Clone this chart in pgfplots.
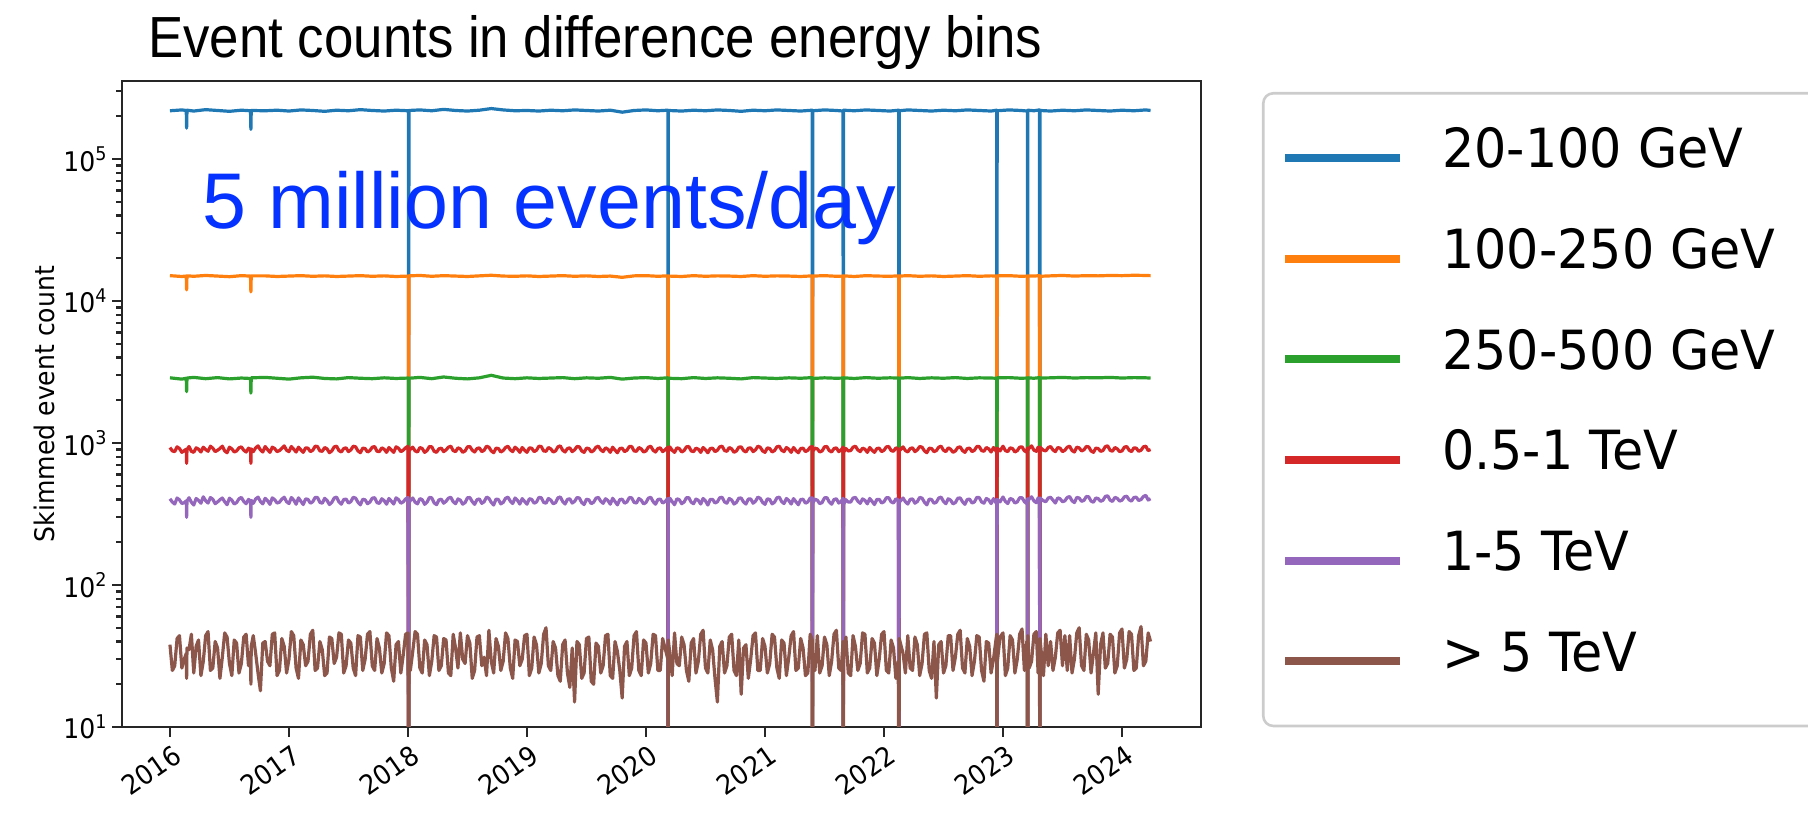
\documentclass[border=0pt]{standalone}
\usepackage{fontspec}
\setmainfont{DejaVu Sans}
\newfontfamily\tickfont[FakeStretch=0.93]{DejaVu Sans}
\newfontfamily\legfont[FakeStretch=0.94]{DejaVu Sans}
\newfontfamily\arialfont{Liberation Sans}
\newfontfamily\titlefont[FakeStretch=0.91]{Liberation Sans}
\usepackage{pgfplots}
\usepackage{pgfplotstable}
\pgfplotsset{compat=1.18}
\definecolor{mblue}{HTML}{1F77B4}
\definecolor{morange}{HTML}{FF7F0E}
\definecolor{mgreen}{HTML}{2CA02C}
\definecolor{mred}{HTML}{D62728}
\definecolor{mpurple}{HTML}{9467BD}
\definecolor{mbrown}{HTML}{8C564B}
\definecolor{annblue}{RGB}{5,50,255}

% years since 2016; blue, orange, green counts
\pgfplotstableread{
x b o g
0.00 219000 15100 2880
0.10 222000 14900 2820
0.137 220000 15000 2860
0.14 165000 12000 2300
0.143 221000 15050 2870
0.20 218000 14950 2900
0.30 223000 15150 2840
0.40 220000 15000 2890
0.50 217000 14850 2830
0.60 221000 15100 2870
0.677 219000 15000 2850
0.68 162000 11600 2250
0.683 220000 15050 2880
0.80 219000 15050 2900
0.90 221000 14900 2860
1.00 218000 15000 2820
1.10 222000 15100 2880
1.20 220000 14950 2910
1.30 217000 15050 2850
1.40 221000 14900 2830
1.50 219000 15000 2890
1.60 223000 15100 2860
1.70 220000 14950 2840
1.80 218000 15050 2880
1.90 221000 14900 2850
2.004 219000 15000 2870
2.006 1 1 1
2.008 220000 15050 2860
2.10 222000 15150 2900
2.20 219000 14950 2840
2.30 224000 15100 2920
2.40 220000 15000 2860
2.50 218000 14900 2830
2.60 221000 15050 2880
2.70 227000 15200 3000
2.80 222000 15000 2870
2.90 219000 14950 2840
3.00 220000 15050 2880
3.10 218000 14900 2850
3.20 221000 15000 2870
3.30 219000 15100 2890
3.40 222000 14950 2840
3.50 220000 15050 2880
3.60 218000 14900 2860
3.70 221000 15000 2900
3.80 214000 14700 2820
3.90 220000 15050 2870
4.00 222000 15100 2890
4.10 219000 14950 2850
4.184 221000 15050 2880
4.186 1 1 1
4.188 220000 15000 2860
4.30 218000 14900 2840
4.40 221000 15100 2890
4.50 219000 14950 2850
4.60 222000 15050 2880
4.70 220000 15000 2860
4.80 217000 14900 2830
4.90 221000 15100 2890
5.00 219000 14950 2870
5.10 222000 15050 2850
5.20 220000 15000 2880
5.30 218000 14900 2860
5.397 221000 15050 2890
5.399 1 1 1
5.401 219000 15000 2850
5.50 222000 15100 2880
5.60 220000 14950 2860
5.656 218000 15000 2870
5.658 1 1 1
5.660 221000 15050 2880
5.75 219000 14900 2850
5.85 222000 15100 2890
5.95 220000 15000 2860
6.05 218000 14950 2880
6.124 221000 15050 2870
6.126 1 1 1
6.128 219000 15000 2860
6.20 222000 15100 2890
6.30 220000 14950 2850
6.40 218000 15050 2880
6.50 221000 14900 2860
6.60 219000 15000 2890
6.70 222000 15100 2850
6.80 220000 14950 2880
6.90 218000 15050 2870
6.947 221000 15000 2860
6.949 1 1 1
6.951 219000 15050 2880
7.05 222000 15100 2890
7.15 220000 14950 2860
7.205 218000 15000 2870
7.207 1 1 1
7.209 221000 15050 2880
7.26 219000 15000 2860
7.307 222000 15100 2890
7.309 1 1 1
7.311 220000 14950 2870
7.40 218000 15050 2880
7.50 221000 15150 2900
7.60 219000 15000 2870
7.70 222000 15100 2890
7.80 220000 15050 2880
7.90 218000 15150 2900
8.00 221000 15100 2870
8.10 219000 15200 2890
8.20 222000 15150 2880
8.24 220000 15100 2870
}\coarse

% years since 2016; red, purple, brown counts
\pgfplotstableread{
x r p b
0.00 930 405 38
0.02 880 384 25
0.04 870 372 27
0.06 940 410 42
0.08 915 398 44
0.10 860 375 26
0.12 885 380 30
0.137 905 392 33
0.14 720 300 22
0.143 900 390 36
0.16 945 412 35
0.18 875 383 45
0.20 860 366 24
0.22 925 407 37
0.24 905 395 41
0.26 865 377 23
0.28 935 418 29
0.30 900 392 44
0.32 875 378 47
0.34 950 413 25
0.36 920 402 26
0.38 870 374 40
0.40 890 385 36
0.42 915 399 22
0.44 950 410 31
0.46 880 386 46
0.48 855 368 43
0.50 935 409 28
0.52 910 396 23
0.54 865 372 41
0.56 880 381 39
0.58 925 405 24
0.60 940 414 28
0.62 890 388 43
0.64 865 374 45
0.66 920 401 27
0.677 900 390 34
0.68 720 300 20
0.683 910 395 37
0.70 870 376 44
0.72 925 404 33
0.74 955 416 24
0.76 895 388 18
0.78 865 373 39
0.80 945 408 40
0.82 900 392 29
0.84 860 370 27
0.86 935 411 45
0.88 915 399 46
0.90 870 378 23
0.92 885 383 25
0.94 920 403 42
0.96 955 415 37
0.98 890 386 24
1.00 870 375 30
1.02 945 413 47
1.04 905 397 44
1.06 865 371 26
1.08 935 411 22
1.10 895 389 41
1.12 860 369 38
1.14 925 404 27
1.16 920 401 29
1.18 870 377 45
1.20 890 386 48
1.22 950 414 25
1.24 945 413 26
1.26 880 382 40
1.28 875 377 35
1.30 930 408 23
1.32 910 394 24
1.34 855 369 43
1.36 880 382 42
1.38 940 410 28
1.40 950 416 31
1.42 885 385 46
1.44 865 371 45
1.46 915 400 24
1.48 925 403 27
1.50 870 378 41
1.52 895 387 39
1.54 950 415 26
1.56 940 409 23
1.58 880 383 44
1.60 855 367 43
1.62 920 402 25
1.64 915 398 30
1.66 865 374 45
1.68 885 384 47
1.70 935 409 27
1.72 945 412 25
1.74 875 380 42
1.76 870 376 36
1.78 925 405 24
1.80 905 393 28
1.82 860 371 46
1.84 930 407 44
1.86 895 390 26
1.88 860 372 21
1.90 940 411 38
1.92 920 400 40
1.94 870 377 24
1.96 890 385 32
1.98 925 404 45
2.00 950 414 46
2.006 1 1 1
2.008 875 379 28
2.02 905 394 25
2.04 935 410 34
2.06 880 383 47
2.08 865 373 45
2.10 930 406 26
2.12 915 399 24
2.14 860 370 41
2.16 885 383 38
2.18 945 414 23
2.20 940 411 29
2.22 875 379 44
2.24 860 368 43
2.26 910 398 25
2.28 920 402 27
2.30 870 377 42
2.32 895 389 41
2.34 935 409 24
2.36 950 415 23
2.38 885 386 45
2.40 870 374 36
2.42 925 404 26
2.44 910 396 46
2.46 860 371 30
2.48 880 381 28
2.50 940 412 44
2.52 945 413 39
2.54 890 387 22
2.56 865 370 25
2.58 915 399 43
2.60 925 404 44
2.62 870 376 27
2.64 890 386 31
2.66 950 416 23
2.68 935 408 48
2.70 880 382 29
2.72 855 366 24
2.74 920 403 42
2.76 915 400 37
2.78 865 373 25
2.80 885 382 29
2.82 930 408 46
2.84 950 416 42
2.86 895 390 26
2.88 870 375 22
2.90 935 410 41
2.92 905 395 40
2.94 860 372 27
2.96 930 406 30
2.98 890 388 44
3.00 860 371 45
3.02 925 405 23
3.04 920 401 26
3.06 870 377 43
3.08 890 384 38
3.10 950 414 24
3.12 945 412 28
3.14 880 382 45
3.16 875 377 50
3.18 930 407 27
3.20 910 397 25
3.22 865 374 40
3.24 880 380 36
3.26 940 411 23
3.28 955 417 21
3.30 890 388 38
3.32 865 372 41
3.34 915 401 24
3.36 925 405 19
3.38 870 378 36
3.40 895 388 15
3.42 945 413 40
3.44 940 410 38
3.46 880 381 22
3.48 860 369 24
3.50 920 402 42
3.52 915 398 43
3.54 865 374 21
3.56 885 383 20
3.58 935 409 39
3.60 950 414 37
3.62 895 389 24
3.64 870 376 27
3.66 925 405 44
3.68 905 394 45
3.70 860 371 23
3.72 935 408 22
3.74 890 387 40
3.76 855 367 34
3.78 915 400 25
3.80 920 402 16
3.82 870 377 37
3.84 890 385 40
3.86 945 413 23
3.88 945 411 26
3.90 880 382 44
3.92 875 378 47
3.94 930 407 25
3.96 910 396 23
3.98 865 373 41
4.00 880 381 39
4.02 935 409 24
4.04 950 415 28
4.06 890 387 45
4.08 865 371 44
4.10 915 400 25
4.12 925 403 25
4.14 870 378 42
4.16 895 387 36
4.184 935 407 30
4.186 1 1 1
4.188 870 376 41
4.20 940 409 33
4.22 890 387 23
4.24 860 368 46
4.26 925 405 28
4.28 915 399 27
4.30 865 374 43
4.32 885 384 38
4.34 940 412 25
4.36 945 412 21
4.38 880 383 39
4.40 870 374 42
4.42 920 403 24
4.44 905 395 29
4.46 860 372 45
4.48 930 407 48
4.50 895 391 26
4.52 855 366 24
4.54 915 401 41
4.56 920 401 35
4.58 870 378 22
4.60 890 386 15
4.62 940 412 37
4.64 950 415 40
4.66 885 385 24
4.68 875 377 27
4.70 930 407 43
4.72 910 397 45
4.74 860 372 25
4.76 880 382 23
4.78 935 409 41
4.80 940 410 17
4.82 885 384 36
4.84 865 372 38
4.86 920 403 22
4.88 925 404 30
4.90 870 377 44
4.92 895 389 46
4.94 950 416 25
4.96 935 408 25
4.98 880 382 42
5.00 860 370 37
5.02 925 405 24
5.04 915 400 28
5.06 865 373 45
5.08 885 383 43
5.10 940 411 26
5.12 950 416 22
5.14 890 387 41
5.16 870 375 39
5.18 930 407 23
5.20 905 394 31
5.22 860 372 44
5.24 930 406 47
5.26 885 386 25
5.28 855 368 26
5.30 915 400 42
5.32 920 402 36
5.34 870 377 23
5.36 890 385 24
5.38 935 410 45
5.397 945 411 41
5.399 1 1 1
5.401 875 377 33
5.42 920 402 25
5.44 910 396 44
5.46 865 374 24
5.48 880 381 27
5.50 940 411 43
5.52 945 413 38
5.54 885 385 23
5.56 865 371 29
5.58 915 400 45
5.60 925 405 48
5.62 870 378 26
5.64 895 388 25
5.656 935 408 40
5.658 1 1 1
5.660 860 369 31
5.68 915 399 43
5.70 880 384 24
5.72 885 384 23
5.74 935 410 44
5.76 950 414 37
5.78 895 390 25
5.80 870 376 28
5.82 920 404 46
5.84 905 395 45
5.86 860 373 24
5.88 930 407 26
5.90 890 388 42
5.92 860 369 39
5.94 915 401 23
5.96 920 401 30
5.98 870 378 45
6.00 890 386 47
6.02 940 412 25
6.04 945 412 24
6.06 885 385 41
6.08 875 378 36
6.10 925 405 22
6.12 910 397 29
6.126 1 1 1
6.128 880 382 42
6.16 940 410 33
6.18 885 386 24
6.20 865 372 44
6.22 915 401 26
6.24 925 404 25
6.26 870 377 43
6.28 895 387 38
6.30 945 414 23
6.32 935 409 28
6.34 880 383 45
6.36 855 367 46
6.38 920 403 25
6.40 915 400 22
6.42 870 377 40
6.44 885 383 16
6.46 935 410 38
6.48 950 416 40
6.50 890 388 24
6.52 870 374 27
6.54 925 405 44
6.56 905 396 44
6.58 860 373 25
6.60 880 381 31
6.62 930 408 45
6.64 940 411 48
6.66 885 386 26
6.68 860 370 24
6.70 915 401 42
6.72 920 402 37
6.74 870 378 23
6.76 890 385 29
6.78 945 414 44
6.80 945 413 43
6.82 885 385 25
6.84 875 377 21
6.86 930 407 40
6.88 910 398 39
6.90 865 375 24
6.92 930 406 30
6.947 865 373 45
6.949 1 1 1
6.951 920 401 28
6.975 880 385 43
7.00 950 417 46
7.02 885 388 23
7.04 870 375 26
7.06 925 407 44
7.08 915 401 41
7.10 865 378 24
7.12 885 385 30
7.14 935 412 45
7.16 940 412 49
7.18 880 386 25
7.20 865 374 40
7.205 925 405 38
7.207 1 1 1
7.209 890 388 44
7.22 920 404 26
7.24 955 418 29
7.26 890 391 45
7.28 875 380 47
7.295 935 410 24
7.307 910 399 40
7.309 1 1 1
7.311 935 410 42
7.34 890 392 23
7.36 880 386 45
7.38 930 410 27
7.40 945 415 40
7.42 895 396 25
7.44 870 378 31
7.46 930 411 46
7.48 920 405 48
7.50 870 386 27
7.52 890 392 44
7.54 935 414 25
7.56 950 420 44
7.58 885 392 24
7.60 865 381 30
7.62 935 414 46
7.64 925 410 50
7.66 880 389 27
7.68 895 394 25
7.70 945 420 45
7.72 940 418 41
7.74 880 390 24
7.76 860 383 33
7.78 920 410 46
7.80 915 406 17
7.82 875 389 38
7.84 885 395 46
7.86 945 421 26
7.88 955 425 28
7.90 890 396 45
7.92 875 388 43
7.94 930 414 24
7.96 910 408 27
7.98 870 390 46
8.00 880 396 49
8.02 935 418 26
8.04 945 422 30
8.06 890 398 47
8.08 870 390 45
8.10 925 414 25
8.12 920 415 26
8.14 875 394 44
8.16 890 400 51
8.18 940 420 27
8.20 950 428 29
8.22 885 397 46
8.24 900 405 40
}\fine

\begin{document}
\begin{tikzpicture}[x=1pt,y=1pt]
\useasboundingbox (0,0) rectangle (904,408.5);
\begin{axis}[
  at={(61pt,45pt)}, anchor=south west,
  scale only axis, width=539.5pt, height=323pt,
  ymode=log, ymin=10, ymax=3.55e5,
  xmin=-0.403, xmax=8.664,
  xtick={0,1,2,3,4,5,6,7,8},
  xticklabels={2016,2017,2018,2019,2020,2021,2022,2023,2024},
  ytick={10,100,1000,10000,100000},
  yticklabels={10\textsuperscript{1},10\textsuperscript{2},10\textsuperscript{3},10\textsuperscript{4},10\textsuperscript{5}},
  minor ytick={20,30,40,50,60,70,80,90,200,300,400,500,600,700,800,900,2000,3000,4000,5000,6000,7000,8000,9000,20000,30000,40000,50000,60000,70000,80000,90000,200000,300000},
  xtick pos=left, ytick pos=left,
  tick align=outside,
  major tick length=5pt, minor tick length=2.8pt,
  every tick/.style={black!85, line width=1.1pt},
  axis line style={black!85, line width=1.3pt},
  xticklabel style={font=\tickfont\fontsize{13.5}{15}\selectfont, rotate=35, anchor=north east, inner sep=1pt, yshift=-2pt},
  yticklabel style={font=\tickfont\fontsize{13.5}{15}\selectfont, inner sep=2pt},
  ylabel={Skimmed event count},
  ylabel style={font=\tickfont\fontsize{13.5}{15}\selectfont, at={(axis description cs:-0.0715,0.5)}, anchor=center},
  legend style={
    at={(axis description cs:1.0565,0.983)}, anchor=north west,
    draw=black!20, line width=1.3pt, rounded corners=5pt, fill=white,
    font=\legfont\fontsize{27}{32}\selectfont,
    inner xsep=9pt, inner ysep=17.3pt,
    row sep=20.35pt,
    nodes={inner sep=0pt, text height=20pt, text depth=10pt},
    /tikz/every odd column/.append style={column sep=19pt},
  },
  legend cell align=left,
  legend image code/.code={\draw[#1, line width=4pt, line cap=butt] (0pt,0pt) -- (57.5pt,0pt);},
  every axis plot/.append style={line width=1.6pt, line join=round},
]
\addplot[mblue] table[x=x, y=b] {\coarse};
\addlegendentry{\makebox[184pt][l]{20-100 GeV}}
\addplot[morange] table[x=x, y=o] {\coarse};
\addlegendentry{100-250 GeV}
\addplot[mgreen] table[x=x, y=g] {\coarse};
\addlegendentry{250-500 GeV}
\addplot[mred] table[x=x, y=r] {\fine};
\addlegendentry{0.5-1 TeV}
\addplot[mpurple] table[x=x, y=p] {\fine};
\addlegendentry{1-5 TeV}
\addplot[mbrown] table[x=x, y=b] {\fine};
\addlegendentry{> 5 TeV}
\end{axis}
\node[anchor=base west, inner sep=0pt, font=\titlefont\fontsize{29}{34}\selectfont] at (74,379.5) {Event counts in difference energy bins};
\node[anchor=base west, inner sep=0pt, text=annblue, font=\arialfont\fontsize{39.5}{45}\selectfont] at (101,294) {5 million events/day};
\end{tikzpicture}
\end{document}
